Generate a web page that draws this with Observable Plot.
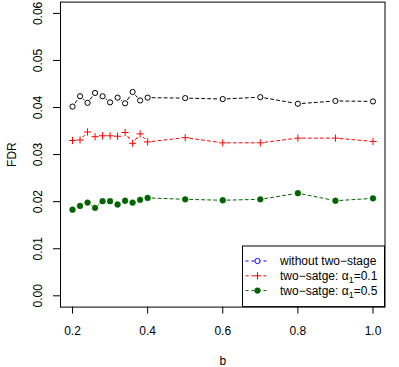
<!DOCTYPE html>
<html>
<head>
<meta charset="utf-8">
<script src="https://cdn.jsdelivr.net/npm/d3@7"></script>
<script src="https://cdn.jsdelivr.net/npm/@observablehq/plot@0.6"></script>
<style>
  html, body { margin: 0; padding: 0; background: #fff; }
  #chart { width: 399px; height: 367px; }
</style>
</head>
<body>
<div id="chart"></div>
<script>
// ---- data ----
const bValues = [0.2, 0.22, 0.24, 0.26, 0.28, 0.3, 0.32, 0.34, 0.36, 0.38, 0.4, 0.5, 0.6, 0.7, 0.8, 0.9, 1.0];
const fdrWithout = [0.0402, 0.0424, 0.0410, 0.0431, 0.0424, 0.0411, 0.0421, 0.0409, 0.0433, 0.0415, 0.0421, 0.0420, 0.0418, 0.0422, 0.0408, 0.0414, 0.0413];
const fdrAlpha01 = [0.0330, 0.0331, 0.0348, 0.0338, 0.0340, 0.0340, 0.0339, 0.0347, 0.0324, 0.0344, 0.0327, 0.0336, 0.0325, 0.0325, 0.0335, 0.0335, 0.0328];
const fdrAlpha05 = [0.0183, 0.0191, 0.0198, 0.0187, 0.0201, 0.0201, 0.0194, 0.0202, 0.0198, 0.0204, 0.0208, 0.0205, 0.0203, 0.0205, 0.0218, 0.0202, 0.0207];
const xTicks = [0.2, 0.4, 0.6, 0.8, 1.0];
const yTicks = [0.00, 0.01, 0.02, 0.03, 0.04, 0.05, 0.06];
const xLabel = "b";
const yLabel = "FDR";
const legendLabels = ["without two\u2212stage", "two\u2212satge: ", "two\u2212satge: "];
const legendAlphaValues = [null, "0.1", "0.5"];

// ---- build tables ----
const pts = (ys) => bValues.map((b, i) => ({b, v: ys[i]}));
const segs = (ys) => bValues.slice(1).map((b, i) => ({x1: bValues[i], y1: ys[i], x2: b, y2: ys[i + 1]}));

const plusSymbol = {
  draw(ctx, size) {
    const h = Math.sqrt(size / Math.PI);
    ctx.moveTo(-h, 0); ctx.lineTo(h, 0);
    ctx.moveTo(0, -h); ctx.lineTo(0, h);
  }
};

const font = "'Liberation Sans', Arial, Helvetica, sans-serif";
const segOpts = (stroke) => ({x1: "x1", y1: "y1", x2: "x2", y2: "y2", stroke, strokeWidth: 1,
  strokeDasharray: "3,3", headLength: 0, inset: 4.5});

const chart = Plot.plot({
  width: 399,
  height: 367,
  marginLeft: 60,
  marginRight: 14.5,
  marginTop: 1.6,
  marginBottom: 60.4,
  style: {fontFamily: font, fontSize: "12px", background: "#fff", color: "#000"},
  x: {domain: [0.168, 1.032]},
  y: {domain: [-0.0024, 0.0624]},
  marks: [
    Plot.frame({stroke: "#000", strokeWidth: 1}),
    Plot.axisX({ticks: xTicks, tickSize: 7, tickPadding: 12, tickFormat: d3.format(".1f"),
      fontSize: 12, label: null, stroke: "#000"}),
    Plot.axisY({ticks: yTicks, tickSize: 7, tickFormat: () => "", label: null, stroke: "#000"}),
    Plot.text(yTicks, {y: d => d, text: d => d3.format(".2f")(d), frameAnchor: "left",
      rotate: -90, dx: -22, fontSize: 12, textAnchor: "middle", lineAnchor: "middle", fill: "#000"}),
    Plot.text([yLabel], {frameAnchor: "left", rotate: -90, dx: -48, fontSize: 12,
      textAnchor: "middle", lineAnchor: "middle", fill: "#000"}),
    Plot.text([xLabel], {frameAnchor: "bottom", dy: 53.6, fontSize: 12,
      textAnchor: "middle", lineAnchor: "middle", fill: "#000"}),
    // series: without two-stage
    Plot.arrow(segs(fdrWithout), segOpts("#000")),
    Plot.dot(pts(fdrWithout), {x: "b", y: "v", r: 2.6, stroke: "#000", fill: "none", strokeWidth: 1}),
    // series: alpha1 = 0.1
    Plot.arrow(segs(fdrAlpha01), segOpts("#ff0000")),
    Plot.dot(pts(fdrAlpha01), {x: "b", y: "v", r: 3.6, symbol: plusSymbol, stroke: "#ff0000", fill: "none", strokeWidth: 1}),
    // series: alpha1 = 0.5
    Plot.arrow(segs(fdrAlpha05), segOpts("#006400")),
    Plot.dot(pts(fdrAlpha05), {x: "b", y: "v", r: 2.9, fill: "#006400", stroke: "#006400", strokeWidth: 0.5})
  ]
});

document.getElementById("chart").appendChild(chart);

// ---- legend (bottom-right, inside plot box) ----
const svg = d3.select(chart);
const g = svg.append("g").attr("font-family", font).attr("font-size", 12).attr("text-anchor", "start");
const bx0 = 242.5, bx1 = 384.5, by0 = 246, by1 = 306.6;
g.append("rect").attr("x", bx0).attr("y", by0).attr("width", bx1 - bx0).attr("height", by1 - by0)
  .attr("fill", "#fff").attr("stroke", "#000").attr("stroke-width", 1);
const rowsY = [261, 275.8, 290.6];
const cols = ["#0000ff", "#ff0000", "#006400"];
rowsY.forEach((yy, i) => {
  g.append("line").attr("x1", 245.5).attr("x2", 268).attr("y1", yy).attr("y2", yy)
    .attr("stroke", cols[i]).attr("stroke-dasharray", "3,3");
  const sx = 257.5;
  if (i === 0) {
    g.append("circle").attr("cx", sx).attr("cy", yy).attr("r", 2.6).attr("fill", "#fff").attr("stroke", cols[i]);
  } else if (i === 1) {
    g.append("rect").attr("x", sx - 3.6).attr("y", yy - 3.6).attr("width", 7.2).attr("height", 7.2).attr("fill", "#fff");
    g.append("path").attr("d", `M${sx - 3.6},${yy}H${sx + 3.6}M${sx},${yy - 3.6}V${yy + 3.6}`).attr("stroke", cols[i]);
  } else {
    g.append("circle").attr("cx", sx).attr("cy", yy).attr("r", 2.9).attr("fill", cols[i]).attr("stroke", cols[i]).attr("stroke-width", 0.5);
  }
  const t = g.append("text").attr("x", 280).attr("y", yy).attr("dy", "0.35em").attr("fill", "#000");
  t.append("tspan").text(legendLabels[i]);
  if (legendAlphaValues[i] !== null) {
    t.append("tspan").text("\u03b1");
    t.append("tspan").attr("font-size", 9).attr("dy", 3).text("1");
    t.append("tspan").attr("dy", -3).text("=" + legendAlphaValues[i]);
  }
});
</script>
</body>
</html>
